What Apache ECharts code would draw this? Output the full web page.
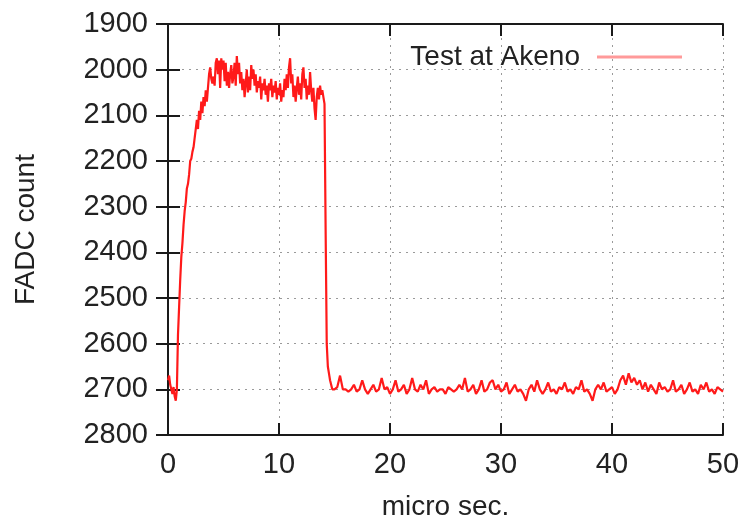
<!DOCTYPE html>
<html>
<head>
<meta charset="utf-8">
<script src="https://cdn.jsdelivr.net/npm/echarts@6/dist/echarts.min.js"></script>
<style>
  html, body { margin: 0; padding: 0; background: #fff; }
  #chart { width: 747px; height: 526px; }
</style>
</head>
<body>
<div id="chart"></div>
<script>
// FADC trace. Each segment: first sample time, sample spacing (micro sec.), counts
const riseStart = 0, riseStep = 0.1
const riseCounts = [
  2680, 2670, 2690, 2700, 2710, 2695, 2715, 2725, 2700, 2580,
  2520, 2460, 2410, 2380, 2340, 2310, 2290, 2260, 2250, 2230,
  2200, 2195, 2180, 2170, 2150, 2150, 2110, 2130, 2090, 2110,
  2070, 2095, 2060, 2080, 2045, 2070, 2040, 2010, 1995, 2020
]
const plateauStart = 4.0, plateauStep = 0.1
const plateauCounts = [
  2030, 2015, 2035, 1985, 1975, 2010, 1980, 2040, 1975, 2000,
  1980, 2025, 1985, 2035, 2005, 2040, 2010, 1990, 2030, 2015,
  1985, 2035, 1970, 2010, 1985, 2030, 2005, 2045, 2020, 2060,
  2030, 2000, 2050, 2015, 2045, 1990, 2020, 2000, 2035, 2010,
  2050, 2025, 2040, 2015, 2065, 2030, 2045, 2020, 2055, 2035,
  2070, 2030, 2045, 2020, 2060, 2035, 2050, 2025, 2065, 2040,
  2055, 2030, 2070, 2045, 2060, 2020, 2045, 2010, 2040, 1995,
  1975, 2030, 2010, 2060, 2035, 2070, 2040, 2015, 2055, 2030,
  2065, 2010, 1995, 2040, 2020, 2065, 2035, 2055, 2005, 2045,
  2070, 2040, 2085, 2110, 2060, 2040, 2065, 2035, 2055, 2045,
  2060, 2075
]
const fallStart = 14.2, fallStep = 0.1
const fallCounts = [2350, 2600, 2650, 2665, 2680, 2690, 2700]
const tailStart = 15.0, tailStep = 0.25
const tailCounts = [
  2700, 2695, 2670, 2700, 2700, 2705, 2700, 2690, 2705, 2700,
  2680, 2700, 2710, 2700, 2690, 2705, 2700, 2675, 2700, 2695,
  2710, 2700, 2680, 2705, 2700, 2690, 2710, 2700, 2675, 2700,
  2705, 2690, 2700, 2680, 2710, 2700, 2695, 2705, 2700, 2700,
  2710, 2695, 2700, 2705, 2700, 2690, 2700, 2675, 2705, 2700,
  2690, 2710, 2700, 2680, 2705, 2700, 2685, 2680, 2700, 2690,
  2705, 2700, 2685, 2710, 2700, 2690, 2705, 2700, 2710, 2725,
  2700, 2690, 2705, 2680, 2700, 2710, 2700, 2685, 2705, 2700,
  2710, 2695, 2700, 2685, 2705, 2700, 2710, 2695, 2700, 2680,
  2705, 2700, 2710, 2725, 2700, 2690, 2700, 2685, 2705, 2700,
  2695, 2710, 2700, 2680, 2670, 2690, 2665, 2685, 2675, 2690,
  2680, 2700, 2685, 2705, 2690, 2700, 2710, 2685, 2700, 2695,
  2705, 2700, 2680, 2705, 2700, 2690, 2710, 2700, 2685, 2705,
  2700, 2710, 2690, 2700, 2685, 2705, 2700, 2710, 2695, 2700,
  2705
]
const xTicks = [0, 10, 20, 30, 40, 50]
const yTicks = [1900, 2000, 2100, 2200, 2300, 2400, 2500, 2600, 2700, 2800]

const toPoints = (start, step, counts) => counts.map((c, i) => [+(start + i * step).toFixed(3), c])
const trace = [].concat(
  toPoints(riseStart, riseStep, riseCounts),
  toPoints(plateauStart, plateauStep, plateauCounts),
  toPoints(fallStart, fallStep, fallCounts),
  toPoints(tailStart, tailStep, tailCounts)
)

const font = 'Liberation Sans, Arial, sans-serif'
const ink = '#222'
const frame = { show: true, lineStyle: { color: '#1a1a1a', width: 2 } }
const tick = { show: true, inside: true, length: 12, lineStyle: { color: '#1a1a1a', width: 2 } }
const grid = { show: true, lineStyle: { color: '#9a9a9a', width: 1, type: [2, 5] } }

const chart = echarts.init(document.getElementById('chart'))
chart.setOption({
  animation: false,
  backgroundColor: '#fff',
  grid: { left: 168, right: 24, top: 24, bottom: 89 },
  legend: {
    right: 60,
    top: 38,
    align: 'right',
    itemWidth: 85,
    itemHeight: 3,
    textStyle: { fontFamily: font, fontSize: 28, color: ink, padding: [0, 12, 0, 0] },
    data: [{ name: 'Test at Akeno', icon: 'rect', itemStyle: { color: '#ff9a9a' } }]
  },
  xAxis: [{
    type: 'value',
    min: xTicks[0],
    max: xTicks[xTicks.length - 1],
    interval: 10,
    name: 'micro sec.',
    nameLocation: 'middle',
    nameGap: 58,
    nameTextStyle: { fontFamily: font, fontSize: 28, color: ink },
    axisLine: frame,
    axisTick: tick,
    splitLine: grid,
    axisLabel: { fontFamily: font, fontSize: 29, color: ink, margin: 15, formatter: v => String(v) }
  }, {
    type: 'value',
    position: 'top',
    min: xTicks[0],
    max: xTicks[xTicks.length - 1],
    interval: 10,
    axisLine: frame,
    axisTick: tick,
    splitLine: { show: false },
    axisLabel: { show: false }
  }],
  yAxis: [{
    type: 'value',
    inverse: true,
    min: yTicks[0],
    max: yTicks[yTicks.length - 1],
    interval: 100,
    name: 'FADC count',
    nameLocation: 'middle',
    nameGap: 128,
    nameTextStyle: { fontFamily: font, fontSize: 28, color: ink },
    axisLine: frame,
    axisTick: tick,
    splitLine: grid,
    axisLabel: { fontFamily: font, fontSize: 29, color: ink, margin: 20, formatter: v => String(v) }
  }, {
    type: 'value',
    position: 'right',
    inverse: true,
    min: yTicks[0],
    max: yTicks[yTicks.length - 1],
    interval: 100,
    axisLine: frame,
    axisTick: tick,
    splitLine: { show: false },
    axisLabel: { show: false }
  }],
  series: [{
    name: 'Test at Akeno',
    type: 'line',
    xAxisIndex: 0,
    yAxisIndex: 0,
    showSymbol: false,
    symbol: 'none',
    lineStyle: { color: '#ff1a1a', width: 2.2 },
    itemStyle: { color: '#ff1a1a' },
    data: trace
  }]
})
</script>
</body>
</html>
